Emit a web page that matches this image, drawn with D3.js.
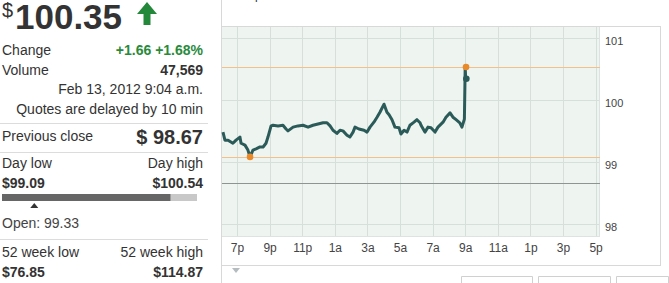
<!DOCTYPE html>
<html><head><meta charset="utf-8">
<script src="https://cdn.jsdelivr.net/npm/d3@7"></script>
<style>body{margin:0;background:#fff;} svg{display:block;font-family:Arial,"Liberation Sans",sans-serif;}</style>
</head><body><svg id="c" width="669" height="283"></svg>
<script>
// hours after midnight of Feb 12 (24 = midnight, 33 = 9 a.m. Feb 13)
const hours = [18.14,18.26,18.45,18.75,18.94,19.18,19.25,19.49,19.67,19.80,19.98,20.17,20.41,20.60,20.78,20.90,21.09,21.21,21.52,21.82,22.01,22.13,22.44,22.74,23.05,23.36,23.66,23.97,24.28,24.52,24.71,24.89,25.13,25.32,25.50,25.75,25.93,26.12,26.24,26.48,26.79,26.98,27.16,27.40,27.59,27.77,28.02,28.20,28.33,28.51,28.69,28.94,29.06,29.25,29.43,29.61,29.86,30.04,30.23,30.29,30.53,30.72,30.90,31.15,31.33,31.64,31.82,32.07,32.25,32.44,32.67,32.80,32.95,33.00,33.03];
const prices = [99.49,99.36,99.36,99.31,99.36,99.41,99.31,99.28,99.20,99.09,99.20,99.22,99.25,99.25,99.31,99.41,99.59,99.60,99.59,99.60,99.54,99.51,99.57,99.59,99.60,99.57,99.60,99.62,99.64,99.64,99.59,99.52,99.47,99.52,99.51,99.44,99.41,99.49,99.57,99.54,99.52,99.49,99.57,99.65,99.73,99.81,99.94,99.81,99.77,99.69,99.57,99.56,99.46,99.52,99.49,99.60,99.65,99.69,99.64,99.60,99.49,99.57,99.56,99.49,99.57,99.65,99.73,99.80,99.73,99.69,99.64,99.57,99.70,100.54,100.35];
const tickHours = [19,21,23,25,27,29,31,33,35,37,39,41];
const tickLabels = ["7p","9p","11p","1a","3a","5a","7a","9a","11a","1p","3p","5p"];
const yTicks = [98,99,100,101];
const dayHigh = 100.54, dayLow = 99.09, prevClose = 98.67, lastPrice = 100.35;
const lowHour = 19.80, highHour = 33.05, lastHour = 33.07;

const leftRows = [
  {label:"Change", value:"+1.66 +1.68%", y:55, green:true},
  {label:"Volume", value:"47,569", y:75}
];

const svg = d3.select("#c");
const x = d3.scaleLinear().domain([18.08, 41.27]).range([222, 600]);
const y = d3.scaleLinear().domain([97.798, 101.185]).range([237, 27]);

// ---------- Left panel ----------
const L = svg.append("g");
L.append("text").attr("x",2).attr("y",17).attr("font-size",20).attr("fill","#333").text("$");
L.append("text").attr("x",15).attr("y",29).attr("font-size",35).attr("font-weight","bold").attr("fill","#333").text("100.35");
L.append("path").attr("d","M137,14 L147,2 L157,14 L150.5,14 L150.5,25 L143.5,25 L143.5,14 Z").attr("fill","#23883a");

leftRows.forEach(r=>{
  L.append("text").attr("x",2).attr("y",r.y).attr("font-size",14).attr("fill","#333").text(r.label);
  L.append("text").attr("x",203).attr("y",r.y).attr("text-anchor","end").attr("font-size",14).attr("font-weight","bold").attr("fill",r.green?"#2a8a3c":"#333").text(r.value);
});
L.append("text").attr("x",203).attr("y",94).attr("text-anchor","end").attr("font-size",14).attr("fill","#333").text("Feb 13, 2012 9:04 a.m.");
L.append("text").attr("x",203).attr("y",114).attr("text-anchor","end").attr("font-size",14).attr("fill","#333").text("Quotes are delayed by 10 min");
[123,152,239].forEach(yy=>L.append("line").attr("x1",0).attr("x2",208).attr("y1",yy+0.5).attr("y2",yy+0.5).attr("stroke","#dcdcdc"));
L.append("text").attr("x",2).attr("y",141).attr("font-size",14).attr("fill","#333").text("Previous close");
L.append("text").attr("x",203).attr("y",144).attr("text-anchor","end").attr("font-size",20).attr("font-weight","bold").attr("fill","#333").text("$ " + prevClose.toFixed(2));
L.append("text").attr("x",2).attr("y",168).attr("font-size",14).attr("fill","#333").text("Day low");
L.append("text").attr("x",203).attr("y",168).attr("text-anchor","end").attr("font-size",14).attr("fill","#333").text("Day high");
L.append("text").attr("x",2).attr("y",188).attr("font-size",14).attr("font-weight","bold").attr("fill","#333").text("$" + dayLow.toFixed(2));
L.append("text").attr("x",203).attr("y",188).attr("text-anchor","end").attr("font-size",14).attr("font-weight","bold").attr("fill","#333").text("$" + dayHigh.toFixed(2));
// range bar
const rb = d3.scaleLinear().domain([dayLow, dayHigh]).range([2, 197]);
L.append("rect").attr("x",2).attr("y",194).attr("width",195).attr("height",7).attr("fill","#c8c8c8");
L.append("rect").attr("x",2).attr("y",194).attr("width",rb(lastPrice)-3).attr("height",7).attr("fill","#666");
const ox = rb(99.33);
L.append("path").attr("d",`M${ox-4},208 L${ox},203 L${ox+4},208 Z`).attr("fill","#333");
L.append("text").attr("x",2).attr("y",228).attr("font-size",14).attr("fill","#444").text("Open: 99.33");
L.append("text").attr("x",2).attr("y",257).attr("font-size",14).attr("fill","#333").text("52 week low");
L.append("text").attr("x",203).attr("y",257).attr("text-anchor","end").attr("font-size",14).attr("fill","#333").text("52 week high");
L.append("text").attr("x",2).attr("y",277).attr("font-size",14).attr("font-weight","bold").attr("fill","#333").text("$76.85");
L.append("text").attr("x",203).attr("y",277).attr("text-anchor","end").attr("font-size",14).attr("font-weight","bold").attr("fill","#333").text("$114.87");

// ---------- Chart frame ----------
svg.append("text").attr("x",255).attr("y",-1).attr("font-size",12).attr("fill","#333").text("p");
svg.append("rect").attr("x",221.5).attr("y",26.5).attr("width",439).attr("height",239).attr("fill","#fff").attr("stroke","#d8d8d8");
svg.append("line").attr("x1",221.5).attr("x2",221.5).attr("y1",0).attr("y2",283).attr("stroke","#d8d8d8");
svg.append("rect").attr("x",222).attr("y",27).attr("width",378).attr("height",210).attr("fill","#eef4f0");

// gridlines
svg.append("g").selectAll("line").data(tickHours).join("line")
  .attr("x1",d=>Math.round(x(d))+0.5).attr("x2",d=>Math.round(x(d))+0.5)
  .attr("y1",27).attr("y2",237).attr("stroke","#d6dfda");
svg.append("g").selectAll("line").data(yTicks).join("line")
  .attr("x1",222).attr("x2",600).attr("y1",d=>Math.round(y(d))+0.5).attr("y2",d=>Math.round(y(d))+0.5).attr("stroke","#d6dfda");
svg.append("line").attr("x1",599.5).attr("x2",599.5).attr("y1",27).attr("y2",237).attr("stroke","#dde3e0");
svg.append("line").attr("x1",222).attr("x2",600).attr("y1",236.5).attr("y2",236.5).attr("stroke","#dde3e0");

// reference lines
[dayHigh, dayLow].forEach(v=>svg.append("line").attr("x1",222).attr("x2",600).attr("y1",Math.round(y(v))+0.5).attr("y2",Math.round(y(v))+0.5).attr("stroke","#f3bf8a"));
svg.append("line").attr("x1",222).attr("x2",600).attr("y1",Math.round(y(prevClose))+0.5).attr("y2",Math.round(y(prevClose))+0.5).attr("stroke","#8e9492");

// price line
const data = hours.map((h,i)=>({h, p:prices[i]}));
svg.append("path").datum(data)
  .attr("d", d3.line().x(d=>x(d.h)).y(d=>y(d.p)))
  .attr("fill","none").attr("stroke","#2b5b59").attr("stroke-width",3).attr("stroke-linejoin","round");

// dots
svg.append("circle").attr("cx",x(lowHour)).attr("cy",y(dayLow)).attr("r",3.3).attr("fill","#e8892a");
svg.append("circle").attr("cx",x(highHour)).attr("cy",y(dayHigh)).attr("r",3.3).attr("fill","#e8892a");
svg.append("circle").attr("cx",x(lastHour)).attr("cy",y(lastPrice)).attr("r",3.3).attr("fill","#2b5b59");

// y axis labels
const yAxis = d3.axisRight(y).tickValues(yTicks).tickFormat(d3.format("d")).tickSize(0).tickPadding(0);
const ya = svg.append("g").attr("transform","translate(605,2)").call(yAxis);
ya.select(".domain").remove();
ya.selectAll("text").attr("font-size",11).attr("fill","#444").attr("font-family","Arial,'Liberation Sans',sans-serif");

// x axis labels
const xAxis = d3.axisBottom(x).tickValues(tickHours).tickFormat((d,i)=>tickLabels[i]).tickSize(0).tickPadding(0);
const xa = svg.append("g").attr("transform","translate(0,243)").call(xAxis);
xa.select(".domain").remove();
xa.selectAll("text").attr("font-size",12).attr("fill","#444").attr("font-family","Arial,'Liberation Sans',sans-serif");

// bottom decorations
svg.append("path").attr("d","M232,268 L240,268 L236,273 Z").attr("fill","#b5bcc0");
[[461,533],[538,611],[616,669]].forEach(([a,b])=>{
  svg.append("path").attr("d",`M${a+0.5},283 L${a+0.5},276.5 L${b-0.5},276.5 L${b-0.5},283`).attr("fill","none").attr("stroke","#d0d0d0");
});
</script></body></html>
